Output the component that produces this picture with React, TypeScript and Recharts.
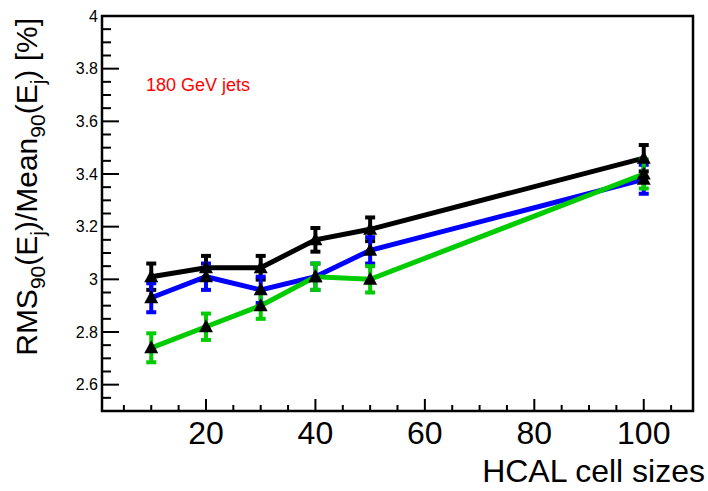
import React from 'react';
import { ComposedChart, Line, XAxis, YAxis, ErrorBar, ReferenceArea } from 'recharts';

const cellSizes = [10, 20, 30, 40, 50, 100];
const blackValues = [3.01, 3.044, 3.044, 3.15, 3.19, 3.46];
const blueValues = [2.93, 3.01, 2.96, 3.01, 3.11, 3.38];
const greenValues = [2.74, 2.82, 2.9, 3.01, 3.0, 3.4];
const blackErrors = [0.05, 0.045, 0.045, 0.045, 0.045, 0.05];
const blueErrors = [0.055, 0.05, 0.05, 0.05, 0.05, 0.055];
const greenErrors = [0.055, 0.05, 0.05, 0.05, 0.05, 0.055];

const xMajorTicks = [20, 40, 60, 80, 100];
const xMinorTicks = [5, 10, 15, 25, 30, 35, 45, 50, 55, 65, 70, 75, 85, 90, 95, 105];
const yMajorTicks = [2.6, 2.8, 3, 3.2, 3.4, 3.6, 3.8, 4];
const yMinorTicks = [2.55, 2.65, 2.7, 2.75, 2.85, 2.9, 2.95, 3.05, 3.1, 3.15, 3.25, 3.3, 3.35, 3.45, 3.5, 3.55, 3.65, 3.7, 3.75, 3.85, 3.9, 3.95];

const xDomain = [1, 109];
const yDomain = [2.5, 4];

const data = cellSizes.map((x, i) => ({
  x,
  black: blackValues[i],
  blackErr: blackErrors[i],
  blue: blueValues[i],
  blueErr: blueErrors[i],
  green: greenValues[i],
  greenErr: greenErrors[i],
}));

const FONT = '"Liberation Sans", Arial, Helvetica, sans-serif';

const isIn = (arr: number[], v: number) => arr.some((t) => Math.abs(t - v) < 1e-6);

const XTick = (props: any) => {
  const { x, y, payload } = props;
  const v = payload.value;
  const major = isIn(xMajorTicks, v);
  return (
    <g>
      <line x1={x} x2={x} y1={y} y2={y - (major ? 12 : 6)} stroke="#000" strokeWidth={2} />
      {major && (
        <text x={x} y={y + 33} textAnchor="middle" fontSize={32} fontFamily={FONT} fill="#000">
          {v}
        </text>
      )}
    </g>
  );
};

const YTick = (props: any) => {
  const { x, y, payload } = props;
  const v = payload.value;
  const major = isIn(yMajorTicks, v);
  return (
    <g>
      <line x1={x} x2={x + (major ? 17 : 9)} y1={y} y2={y} stroke="#000" strokeWidth={2} />
      {major && (
        <text x={x - 4} y={y + 5.5} textAnchor="end" fontSize={16} fontFamily={FONT} fill="#000">
          {String(v)}
        </text>
      )}
    </g>
  );
};

const triangle = (p: any) => {
  const { cx, cy, index } = p;
  if (cx == null || cy == null) return <g key={`n${index}`} />;
  return (
    <polygon
      key={`t${index}`}
      points={`${cx},${cy - 7.5} ${cx - 7},${cy + 5.5} ${cx + 7},${cy + 5.5}`}
      fill="#000"
    />
  );
};

export default function App() {
  const allX = [...xMajorTicks, ...xMinorTicks].sort((a, b) => a - b);
  const allY = [...yMajorTicks, ...yMinorTicks].sort((a, b) => a - b);
  return (
    <div style={{ position: 'absolute', left: 0, top: 0, width: 708, height: 491, background: '#fff' }}>
      <ComposedChart width={708} height={491} data={data} margin={{ top: 16, right: 15, bottom: 0, left: 0 }}>
        <XAxis
          dataKey="x"
          type="number"
          domain={xDomain}
          ticks={allX}
          interval={0}
          axisLine={false}
          tickLine={false}
          tickSize={0}
          tickMargin={0}
          height={80}
          tick={<XTick />}
          allowDataOverflow
        />
        <YAxis
          type="number"
          domain={yDomain}
          ticks={allY}
          interval={0}
          axisLine={false}
          tickLine={false}
          tickSize={0}
          tickMargin={0}
          width={102}
          tick={<YTick />}
          allowDataOverflow
        />
        <ReferenceArea
          x1={xDomain[0]}
          x2={xDomain[1]}
          y1={yDomain[0]}
          y2={yDomain[1]}
          fill="none"
          fillOpacity={0}
          stroke="#000"
          strokeWidth={2.5}
          ifOverflow="visible"
        />
        <Line type="linear" dataKey="black" stroke="#000" strokeWidth={5} dot={triangle} activeDot={false} isAnimationActive={false}>
          <ErrorBar dataKey="blackErr" width={5} strokeWidth={4} stroke="#000" direction="y" isAnimationActive={false} />
        </Line>
        <Line type="linear" dataKey="blue" stroke="#0000ff" strokeWidth={5} dot={triangle} activeDot={false} isAnimationActive={false}>
          <ErrorBar dataKey="blueErr" width={5} strokeWidth={4} stroke="#0000ff" direction="y" isAnimationActive={false} />
        </Line>
        <Line type="linear" dataKey="green" stroke="#00cc00" strokeWidth={5} dot={triangle} activeDot={false} isAnimationActive={false}>
          <ErrorBar dataKey="greenErr" width={5} strokeWidth={4} stroke="#00cc00" direction="y" isAnimationActive={false} />
        </Line>
      </ComposedChart>
      <svg width={708} height={491} style={{ position: 'absolute', left: 0, top: 0, pointerEvents: 'none' }}>
        <text
          transform="rotate(-90)"
          x={-18}
          y={37}
          textAnchor="end"
          fontSize={30}
          fontFamily={FONT}
          fill="#000"
        >
          RMS
          <tspan fontSize={21} dy={8}>90</tspan>
          <tspan dy={-8}>(E</tspan>
          <tspan fontSize={21} dy={8}>j</tspan>
          <tspan dy={-8}>)/Mean</tspan>
          <tspan fontSize={21} dy={8}>90</tspan>
          <tspan dy={-8}>(E</tspan>
          <tspan fontSize={21} dy={8}>j</tspan>
          <tspan dy={-8}>) [%]</tspan>
        </text>
        <text x={705} y={482} textAnchor="end" fontSize={32} fontFamily={FONT} fill="#000">
          HCAL cell sizes
        </text>
        <text x={146} y={91} fontSize={18} fontFamily={FONT} fill="#ff0000">
          180 GeV jets
        </text>
      </svg>
    </div>
  );
}
